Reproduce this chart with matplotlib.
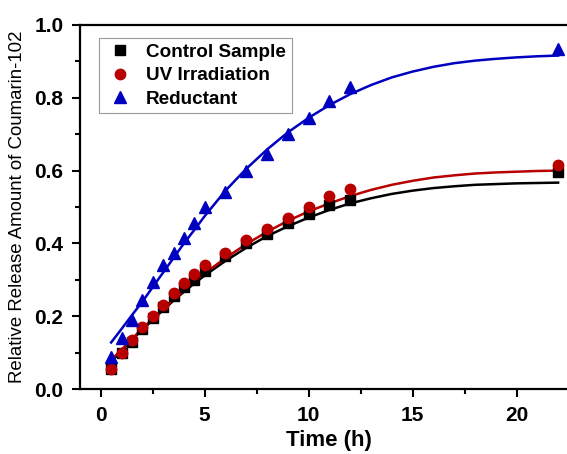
import numpy as np
import matplotlib
matplotlib.use('Agg')
import matplotlib.pyplot as plt
from matplotlib.ticker import MultipleLocator

plt.rcParams['font.family'] = ['Liberation Sans', 'DejaVu Sans']

# measured release data
time_h = [0.5, 1, 1.5, 2, 2.5, 3, 3.5, 4, 4.5, 5, 6, 7, 8, 9, 10, 11, 12, 22]
control = [0.055, 0.10, 0.13, 0.165, 0.195, 0.225, 0.255, 0.28, 0.30, 0.325,
           0.365, 0.40, 0.425, 0.455, 0.48, 0.505, 0.52, 0.595]
uv = [0.055, 0.10, 0.135, 0.17, 0.20, 0.23, 0.265, 0.29, 0.315, 0.34,
      0.375, 0.41, 0.44, 0.47, 0.50, 0.53, 0.55, 0.615]
reductant = [0.088, 0.14, 0.19, 0.245, 0.295, 0.34, 0.375, 0.415, 0.455, 0.50,
             0.54, 0.60, 0.645, 0.70, 0.745, 0.79, 0.83, 0.935]

# fitted curves
fit_t = [0.5, 1, 1.5, 2, 2.5, 3, 3.5, 4, 4.5, 5, 6, 7, 8, 9, 10, 11, 12,
         13, 14, 15, 16, 17, 18, 19, 20, 21, 22]
fit_control = [0.075, 0.105, 0.135, 0.163, 0.19, 0.217, 0.243, 0.267, 0.29, 0.312,
               0.352, 0.388, 0.42, 0.447, 0.471, 0.492, 0.51,
               0.524, 0.536, 0.545, 0.552, 0.557, 0.561, 0.563, 0.565, 0.566, 0.567]
fit_uv = [0.08, 0.108, 0.138, 0.166, 0.193, 0.22, 0.246, 0.271, 0.295, 0.318,
          0.36, 0.398, 0.432, 0.462, 0.488, 0.51, 0.53,
          0.547, 0.561, 0.572, 0.581, 0.587, 0.592, 0.595, 0.597, 0.599, 0.600]
fit_reductant = [0.128, 0.165, 0.203, 0.24, 0.28, 0.32, 0.36, 0.40, 0.437, 0.475,
                 0.545, 0.605, 0.658, 0.705, 0.745, 0.78, 0.81,
                 0.835, 0.856, 0.872, 0.885, 0.895, 0.902, 0.907, 0.911, 0.914, 0.916]

black = '#000000'
red = '#b80000'
blue = '#0000c0'

fig = plt.figure(figsize=(5.67, 4.54), dpi=100)
ax = fig.add_axes([0.141, 0.143, 0.880, 0.802])

ax.plot(fit_t, fit_control, color=black, lw=1.8)
ax.plot(fit_t, fit_uv, color=red, lw=1.8)
ax.plot(fit_t, fit_reductant, color=blue, lw=1.8)

ax.plot(time_h, control, 's', color=black, ms=6.5, label='Control Sample')
ax.plot(time_h, uv, 'o', color=red, ms=7.5, label='UV Irradiation')
ax.plot(time_h, reductant, '^', color=blue, ms=8, label='Reductant')

ax.set_xlim(-1, 23)
ax.set_ylim(0, 1.0)
ax.xaxis.set_major_locator(MultipleLocator(5))
ax.xaxis.set_minor_locator(MultipleLocator(2.5))
ax.yaxis.set_major_locator(MultipleLocator(0.2))
ax.yaxis.set_minor_locator(MultipleLocator(0.1))
ax.tick_params(which='major', direction='out', length=6, width=1.5, labelsize=15, pad=6)
ax.tick_params(which='minor', direction='out', length=3.5, width=1.5)
for lab in ax.get_xticklabels() + ax.get_yticklabels():
    lab.set_fontweight('bold')
for s in ax.spines.values():
    s.set_linewidth(1.6)

ax.set_xlabel('Time (h)', fontsize=16, fontweight='bold', labelpad=4)
ax.set_ylabel('Relative Release Amount of Coumarin-102', fontsize=13.4, labelpad=6)

leg = ax.legend(loc='upper left', bbox_to_anchor=(0.038, 0.964), frameon=True,
                fancybox=False, edgecolor='#808080', prop={'size': 13.6, 'weight': 'bold'},
                handletextpad=0.6, labelspacing=0.32, borderpad=0.3, handlelength=1.6,
                borderaxespad=0)
leg.get_frame().set_linewidth(0.8)

fig.savefig('out.png', dpi=100)
